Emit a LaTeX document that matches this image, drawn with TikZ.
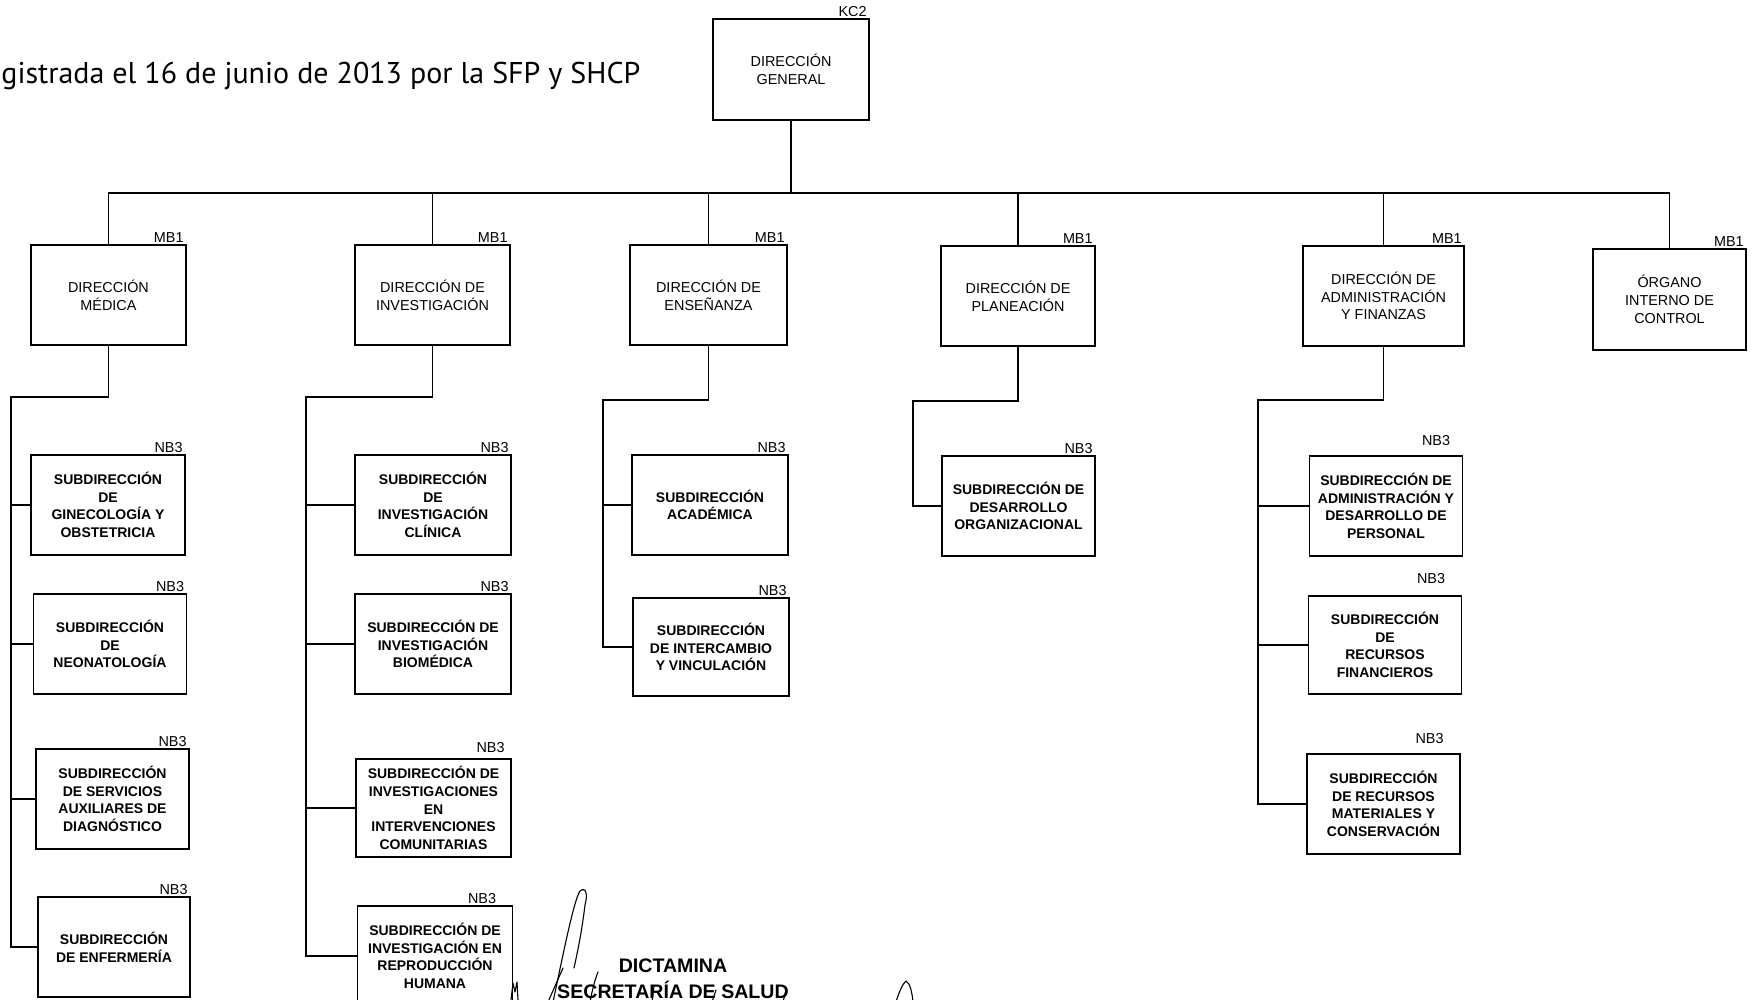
\documentclass[tikz,border=0pt]{standalone}
\usepackage{fontspec}
\setmainfont{Liberation Sans}
\newfontfamily\titlefont{PT Sans}
\begin{document}
\begin{tikzpicture}[x=0.5pt,y=-0.5pt,
  box/.style={draw, line width=0.7pt, inner sep=0pt, outer sep=0pt, align=center},
  dir/.style={box, minimum width=77.5pt, minimum height=50pt, font=\fontsize{7.2}{8.9}\selectfont},
  sub/.style={box, minimum width=77pt, minimum height=50pt, font=\bfseries\fontsize{7}{8.8}\selectfont},
  lbl/.style={anchor=south east, inner sep=1pt, font=\fontsize{7.2}{8}\selectfont},
  conn/.style={line width=0.75pt},
  sig/.style={line width=0.55pt, line cap=round, line join=round}
]
\useasboundingbox[fill=white] (0,0) rectangle (1752,1000);

% title and stamp
\node[anchor=base west, inner sep=0pt, font=\titlefont\fontsize{15}{17}\selectfont] (title) at (1,84) {gistrada el 16 de junio de 2013 por la SFP y SHCP};
\node[anchor=base, inner sep=0pt, font=\bfseries\fontsize{9.8}{11}\selectfont] (dict) at (673,972) {DICTAMINA};
\node[anchor=base, inner sep=0pt, font=\bfseries\fontsize{9.8}{11}\selectfont] (secr) at (673,998) {SECRETARÍA DE SALUD};

% top
\node[dir, minimum width=78pt, minimum height=50.5pt, label={[lbl]north east:KC2}] (dg) at (791,69.5) {DIRECCIÓN\\GENERAL};

% level 1
\node[dir, label={[lbl]north east:MB1}] (med) at (108.5,295) {DIRECCIÓN\\MÉDICA};
\node[dir, label={[lbl]north east:MB1}] (inv) at (432.5,295) {DIRECCIÓN DE\\INVESTIGACIÓN};
\node[dir, minimum width=78.5pt, label={[lbl]north east:MB1}] (ens) at (708.5,295) {DIRECCIÓN DE\\ENSEÑANZA};
\node[dir, minimum width=77pt, label={[lbl]north east:MB1}] (pla) at (1018,296) {DIRECCIÓN DE\\PLANEACIÓN};
\node[dir, minimum width=80.5pt, label={[lbl]north east:MB1}] (adm) at (1383.5,296) {DIRECCIÓN DE\\ADMINISTRACIÓN\\Y FINANZAS};
\node[dir, minimum width=76.5pt, minimum height=50.5pt, label={[lbl]north east:MB1}] (org) at (1669.5,299.5) {ÓRGANO\\INTERNO DE\\CONTROL};

% level 2 - Medica
\node[sub, label={[lbl]north east:NB3}] (gin) at (108,505) {SUBDIRECCIÓN\\DE\\GINECOLOGÍA Y\\OBSTETRICIA};
\node[sub, minimum width=76.5pt, label={[lbl]north east:NB3}] (neo) at (110,644) {SUBDIRECCIÓN\\DE\\NEONATOLOGÍA};
\node[sub, minimum width=76.5pt, label={[lbl]north east:NB3}] (ser) at (112.5,799) {SUBDIRECCIÓN\\DE SERVICIOS\\AUXILIARES DE\\DIAGNÓSTICO};
\node[sub, minimum width=76pt, label={[lbl]north east:NB3}] (enf) at (114,947) {SUBDIRECCIÓN\\DE ENFERMERÍA};

% level 2 - Investigacion
\node[sub, minimum width=78pt, label={[lbl]north east:NB3}] (cli) at (433,505) {SUBDIRECCIÓN\\DE\\INVESTIGACIÓN\\CLÍNICA};
\node[sub, minimum width=78pt, label={[lbl]north east:NB3}] (bio) at (433,644) {SUBDIRECCIÓN DE\\INVESTIGACIÓN\\BIOMÉDICA};
\node[sub, minimum width=77.5pt, minimum height=49pt, label={[lbl, yshift=2pt, xshift=-2pt]north east:NB3}] (itv) at (433.5,808) {SUBDIRECCIÓN DE\\INVESTIGACIONES\\EN\\INTERVENCIONES\\COMUNITARIAS};
\node[sub, minimum width=77.5pt, label={[lbl, xshift=-7pt]north east:NB3}] (rep) at (435,956) {SUBDIRECCIÓN DE\\INVESTIGACIÓN EN\\REPRODUCCIÓN\\HUMANA};

% level 2 - Ensenanza
\node[sub, minimum width=78pt, label={[lbl]north east:NB3}] (aca) at (710,505) {SUBDIRECCIÓN\\ACADÉMICA};
\node[sub, minimum width=78pt, minimum height=49pt, label={[lbl]north east:NB3}] (itc) at (711,647) {SUBDIRECCIÓN\\DE INTERCAMBIO\\Y VINCULACIÓN};

% level 2 - Planeacion
\node[sub, minimum width=76.5pt, label={[lbl]north east:NB3}] (dor) at (1018.5,506) {SUBDIRECCIÓN DE\\DESARROLLO\\ORGANIZACIONAL};

% level 2 - Administracion
\node[sub, minimum width=76.5pt, label={[lbl, xshift=-5pt, yshift=4pt]north east:NB3}] (per) at (1386,506) {SUBDIRECCIÓN DE\\ADMINISTRACIÓN Y\\DESARROLLO DE\\PERSONAL};
\node[sub, minimum width=76.5pt, minimum height=49pt, label={[lbl, xshift=-7pt, yshift=5pt]north east:NB3}] (fin) at (1385,645) {SUBDIRECCIÓN\\DE\\RECURSOS\\FINANCIEROS};
\node[sub, minimum width=76.5pt, label={[lbl, xshift=-7pt, yshift=4pt]north east:NB3}] (mat) at (1383.5,804) {SUBDIRECCIÓN\\DE RECURSOS\\MATERIALES Y\\CONSERVACIÓN};

% connectors level 0-1
\coordinate (bus) at (0,193);
\draw[conn] (dg.south) -- (dg.south |- bus);
\draw[conn] (med.north) |- (org.north |- bus) -- (org.north);
\foreach \n in {inv,ens,pla,adm} \draw[conn] (\n.north) -- (\n.north |- bus);

% connectors level 1-2
\coordinate (mtr) at (11,397);
\draw[conn] (med.south) |- (mtr) |- (enf.west);
\foreach \n in {gin,neo,ser} \draw[conn] (\n.west) -- (\n.west -| mtr);

\coordinate (itr) at (306,397);
\draw[conn] (inv.south) |- (itr) |- (rep.west);
\foreach \n in {cli,bio,itv} \draw[conn] (\n.west) -- (\n.west -| itr);

\coordinate (etr) at (603,400);
\draw[conn] (ens.south) |- (etr) |- (itc.west);
\draw[conn] (aca.west) -- (aca.west -| etr);

\coordinate (ptr) at (913,401);
\draw[conn] (pla.south) |- (ptr) |- (dor.west);

\coordinate (atr) at (1258,400);
\draw[conn] (adm.south) |- (atr) |- (mat.west);
\foreach \n in {per,fin} \draw[conn] (\n.west) -- (\n.west -| atr);

% handwritten strokes
\draw[sig] (553,1002) .. controls (564,950) and (574,900) .. (580,891) .. controls (586,886) and (588,895) .. (585,905) .. controls (582,930) and (578,950) .. (574,968);
\draw[sig] (563,968) -- (548,1002);
\draw[sig] (511,1000) -- (513,983) -- (515,992) -- (517,982) -- (518,1000);
\draw[sig] (598,972) .. controls (594,982) and (592,992) .. (590,1002);
\draw[sig] (654,986) -- (652,1002);
\draw[sig] (716,990) -- (712,1002);
\draw[sig] (786,990) -- (783,1002);
\draw[sig] (896,1002) .. controls (899,992) and (903,983) .. (906,981) .. controls (910,983) and (912,992) .. (913,1002);
\end{tikzpicture}
\end{document}
